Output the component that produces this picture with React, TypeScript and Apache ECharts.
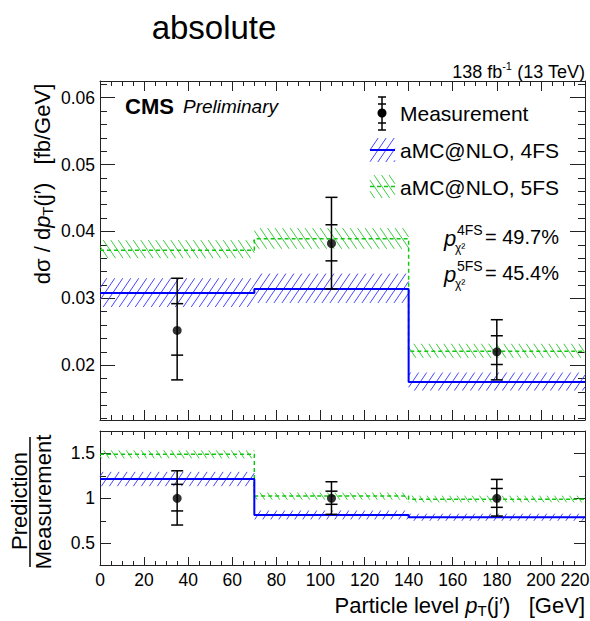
import React, { useEffect, useRef } from 'react';
import * as echarts from 'echarts';

// ---------- data ----------
const binEdges = [0, 70, 140, 220];

const pred4FS = [0.0308, 0.0314, 0.0175];
const pred4FSLo = [0.0287, 0.0293, 0.0162];
const pred4FSHi = [0.033, 0.0337, 0.0189];
const pred5FS = [0.0372, 0.0389, 0.0221];
const pred5FSLo = [0.036, 0.0374, 0.0211];
const pred5FSHi = [0.0387, 0.0405, 0.0232];

const measX = [35, 105, 180];
const measY = [0.0252, 0.0382, 0.022];
const measInnerLo = [0.0215, 0.0356, 0.0201];
const measInnerHi = [0.0292, 0.041, 0.0244];
const measOuterLo = [0.0178, 0.0314, 0.0178];
const measOuterHi = [0.033, 0.0451, 0.0268];

const ratio4FS = [1.215, 0.815, 0.79];
const ratio4FSLo = [1.135, 0.765, 0.75];
const ratio4FSHi = [1.295, 0.865, 0.83];
const ratio5FS = [1.49, 1.025, 0.99];
const ratio5FSLo = [1.445, 0.985, 0.955];
const ratio5FSHi = [1.535, 1.065, 1.03];
const ratioMeas = [1, 1, 1];
const ratioInnerLo = [0.86, 0.934, 0.9];
const ratioInnerHi = [1.156, 1.08, 1.11];
const ratioOuterLo = [0.703, 0.822, 0.803];
const ratioOuterHi = [1.307, 1.185, 1.211];

const mainYTicks = [0.02, 0.03, 0.04, 0.05, 0.06];
const ratioYTicks = [0.5, 1, 1.5];
const ratioYMinor = [0.75, 1.25];

const pValue4FS = '49.7%';
const pValue5FS = '45.4%';

// ---------- helpers ----------
const FONT = '"Liberation Sans", Arial, Helvetica, sans-serif';
const AXC = '#222';
const BLUE = '#0000ff';
const BLUE_H = '#4545ff';
const GREEN = '#11c811';
const GREEN_H = '#40cc40';

function hatchSegments(x0: number, y0: number, x1: number, y1: number, spacing: number, s: number) {
  const k = 0.68;
  const ax = Math.min(x0, x1), bx = Math.max(x0, x1);
  const ay = Math.min(y0, y1), by = Math.max(y0, y1);
  const cs = [ax + s * k * ay, ax + s * k * by, bx + s * k * ay, bx + s * k * by];
  const cmin = Math.min(...cs), cmax = Math.max(...cs);
  const out: number[][] = [];
  for (let c = Math.floor(cmin / spacing) * spacing; c <= cmax; c += spacing) {
    let ya = (c - bx) / (s * k), yb = (c - ax) / (s * k);
    if (ya > yb) { const t = ya; ya = yb; yb = t; }
    ya = Math.max(ya, ay); yb = Math.min(yb, by);
    if (yb - ya > 0.6) {
      out.push([c - s * k * ya, ya, c - s * k * yb, yb]);
    }
  }
  return out;
}

function bandData(lo: number[], hi: number[]) {
  return lo.map((l, i) => [binEdges[i], binEdges[i + 1], l, hi[i]]);
}
function stepData(vals: number[]) {
  const pts = vals.map((v, i) => [binEdges[i], v]);
  pts.push([binEdges[binEdges.length - 1], vals[vals.length - 1]]);
  return pts;
}
function errData(y: number[], oLo: number[], oHi: number[], iLo: number[], iHi: number[]) {
  return measX.map((x, i) => [x, oLo[i], oHi[i], iLo[i], iHi[i], y[i]]);
}

const bandRender = (color: string, dir: number, spacing: number) => (params: any, api: any) => {
  const a = api.coord([api.value(0), api.value(3)]);
  const b = api.coord([api.value(1), api.value(2)]);
  const segs = hatchSegments(a[0], a[1], b[0], b[1], spacing, dir);
  return {
    type: 'group',
    children: segs.map((sg) => ({
      type: 'line',
      shape: { x1: sg[0], y1: sg[1], x2: sg[2], y2: sg[3] },
      style: { stroke: color, lineWidth: 1 },
    })),
  };
};

const errRender = (params: any, api: any) => {
  const x = api.value(0);
  const oLo = api.coord([x, api.value(1)]);
  const oHi = api.coord([x, api.value(2)]);
  const iLo = api.coord([x, api.value(3)]);
  const iHi = api.coord([x, api.value(4)]);
  const cw = 6;
  const st = { stroke: '#000', lineWidth: 1.5 };
  const ln = (x1: number, y1: number, x2: number, y2: number) => ({ type: 'line', shape: { x1, y1, x2, y2 }, style: st });
  return {
    type: 'group',
    children: [
      ln(oLo[0], oLo[1], oHi[0], oHi[1]),
      ln(oLo[0] - cw, oLo[1], oLo[0] + cw, oLo[1]),
      ln(oHi[0] - cw, oHi[1], oHi[0] + cw, oHi[1]),
      ln(iLo[0] - cw, iLo[1], iLo[0] + cw, iLo[1]),
      ln(iHi[0] - cw, iHi[1], iHi[0] + cw, iHi[1]),
    ],
  };
};

// ---------- layout ----------
const GL = 100, GW = 485;
const MAIN_TOP = 81, MAIN_H = 339;
const RAT_TOP = 431, RAT_H = 134;
const X_MAX = 220;

function xAxisMajor(gridIndex: number, position: string, showLabel: boolean, len: number, minorLen: number) {
  return {
    type: 'value', gridIndex, position, min: 0, max: X_MAX, interval: 20,
    axisLine: { show: true, onZero: false, lineStyle: { color: AXC, width: 1 } },
    axisTick: { show: true, inside: true, length: len, lineStyle: { color: AXC, width: 1 } },
    minorTick: { show: true, splitNumber: 4, length: minorLen, lineStyle: { color: AXC, width: 1 } },
    axisLabel: {
      show: showLabel, color: '#000', fontFamily: FONT, fontSize: 17.5, margin: 6,
      formatter: (v: number) => (v === X_MAX ? '{r|' + v + '}' : String(v)),
      rich: { r: { color: '#000', fontFamily: FONT, fontSize: 17.5, padding: [0, 20, 0, 0] } },
    },
    splitLine: { show: false }, minorSplitLine: { show: false },
  };
}
function xAxisHidden(gridIndex: number) {
  return { type: 'value', gridIndex, min: 0, max: X_MAX, show: false };
}
function yAxis(gridIndex: number, position: string, min: number, max: number, ticks: number[], len: number,
  labels: boolean, line: boolean, formatter?: (v: number) => string) {
  return {
    type: 'value', gridIndex, position, min, max,
    axisLine: { show: line, onZero: false, lineStyle: { color: AXC, width: 1 } },
    axisTick: { show: true, inside: true, length: len, customValues: ticks, lineStyle: { color: AXC, width: 1 } },
    axisLabel: { show: labels, customValues: ticks, formatter, color: '#000', fontFamily: FONT, fontSize: 17.5, margin: 5 },
    splitLine: { show: false },
  };
}

const mainYMinor: number[] = [];
for (let i = 6; i <= 31; i++) mainYMinor.push(Math.round(i * 2) / 1000);

const MAIN_MIN = 0.0118, MAIN_MAX = 0.0625;
const RAT_MIN = 0.258, RAT_MAX = 1.75;

function txt(x: number, y: number, text: string, style: any, extra: any = {}) {
  return {
    type: 'text', x, y, ...extra,
    style: { text, fill: '#000', fontFamily: FONT, fontSize: 20, align: 'left', verticalAlign: 'middle', ...style },
  };
}

function hatchGraphic(x0: number, y0: number, x1: number, y1: number, spacing: number, dir: number, color: string) {
  return hatchSegments(x0, y0, x1, y1, spacing, dir).map((sg) => ({
    type: 'line', shape: { x1: sg[0], y1: sg[1], x2: sg[2], y2: sg[3] }, style: { stroke: color, lineWidth: 1 },
  }));
}

function buildOption() {
  const subRich = {
    a: { fontSize: 22, fontFamily: FONT, lineHeight: 26 },
    i: { fontSize: 22, fontFamily: FONT, fontStyle: 'italic', lineHeight: 26 },
    s: { fontSize: 15, fontFamily: FONT, lineHeight: 12, verticalAlign: 'bottom' },
  };

  const graphic: any[] = [
    txt(214, 27, 'absolute', { fontSize: 33, align: 'center' }),
    txt(585, 72, '{a|138 fb}{u|-1}{a| (13 TeV)}', {
      align: 'right',
      rich: {
        a: { fontSize: 18, fontFamily: FONT, lineHeight: 24 },
        u: { fontSize: 11, fontFamily: FONT, lineHeight: 12, verticalAlign: 'top' },
      },
    }),
    txt(125, 106, 'CMS', { fontSize: 22, fontWeight: 'bold' }),
    txt(183, 106, 'Preliminary', { fontSize: 19, fontStyle: 'italic' }),
    // y-axis title (main)
    txt(42, 184, '{a|dσ / d}{i|p}{s|T}{a|(j′)   [fb/GeV]}', { align: 'center', rich: subRich }, { rotation: Math.PI / 2 }),
    // ratio y title
    txt(19, 501, 'Prediction', { fontSize: 22, align: 'center' }, { rotation: Math.PI / 2 }),
    txt(43, 502, 'Measurement', { fontSize: 22, align: 'center' }, { rotation: Math.PI / 2 }),
    { type: 'line', shape: { x1: 30, y1: 437, x2: 30, y2: 567 }, style: { stroke: '#000', lineWidth: 1.5 } },
    // x-axis title
    txt(585, 605, '{a|Particle level }{i|p}{s|T}{a|(j′)   [GeV]}', { align: 'right', rich: subRich }),
    // legend: measurement
    { type: 'line', shape: { x1: 382, y1: 97, x2: 382, y2: 130 }, style: { stroke: '#000', lineWidth: 1.5 } },
    { type: 'line', shape: { x1: 378, y1: 97, x2: 386, y2: 97 }, style: { stroke: '#000', lineWidth: 1.5 } },
    { type: 'line', shape: { x1: 378, y1: 130, x2: 386, y2: 130 }, style: { stroke: '#000', lineWidth: 1.5 } },
    { type: 'line', shape: { x1: 378, y1: 104, x2: 386, y2: 104 }, style: { stroke: '#000', lineWidth: 1.5 } },
    { type: 'line', shape: { x1: 378, y1: 123, x2: 386, y2: 123 }, style: { stroke: '#000', lineWidth: 1.5 } },
    { type: 'circle', shape: { cx: 382, cy: 113, r: 4.5 }, style: { fill: '#000' } },
    txt(400, 113, 'Measurement', { fontSize: 21 }),
    // legend: 4FS
    ...hatchGraphic(370, 138, 395, 162, 8, 1, BLUE_H),
    { type: 'line', shape: { x1: 370, y1: 150, x2: 395, y2: 150 }, style: { stroke: BLUE, lineWidth: 2 } },
    txt(400, 150, 'aMC@NLO, 4FS', { fontSize: 21 }),
    // legend: 5FS
    ...hatchGraphic(370, 175, 395, 198, 7.5, -1, GREEN_H),
    { type: 'line', shape: { x1: 370, y1: 186.5, x2: 395, y2: 186.5 }, style: { stroke: GREEN, lineWidth: 1.5, lineDash: [4, 3] } },
    txt(400, 187, 'aMC@NLO, 5FS', { fontSize: 21 }),
    // p-values
    txt(444, 238, 'p', { fontSize: 22, fontStyle: 'italic' }),
    txt(457, 230, '4FS', { fontSize: 14 }),
    txt(455, 248, 'χ²', { fontSize: 12 }),
    txt(485, 237, '= ' + pValue4FS, { fontSize: 20 }),
    txt(444, 274, 'p', { fontSize: 22, fontStyle: 'italic' }),
    txt(457, 266, '5FS', { fontSize: 14 }),
    txt(455, 284, 'χ²', { fontSize: 12 }),
    txt(485, 273, '= ' + pValue5FS, { fontSize: 20 }),
  ];

  const fmtMain = (v: number) => v.toFixed(2);
  const fmtRat = (v: number) => String(v);
  const gridBase = { left: GL, width: GW, outerBoundsMode: 'none', containLabel: false };

  return {
    animation: false,
    backgroundColor: '#fff',
    grid: [
      { ...gridBase, top: MAIN_TOP, height: MAIN_H },
      { ...gridBase, top: MAIN_TOP, height: MAIN_H },
      { ...gridBase, top: RAT_TOP, height: RAT_H },
      { ...gridBase, top: RAT_TOP, height: RAT_H },
    ],
    xAxis: [
      xAxisMajor(0, 'bottom', false, 10, 5),
      xAxisMajor(0, 'top', false, 10, 5),
      xAxisHidden(1),
      xAxisMajor(2, 'bottom', true, 8, 4),
      xAxisMajor(2, 'top', false, 8, 4),
      xAxisHidden(3),
    ],
    yAxis: [
      yAxis(0, 'left', MAIN_MIN, MAIN_MAX, mainYTicks, 15, true, true, fmtMain),
      yAxis(0, 'right', MAIN_MIN, MAIN_MAX, mainYTicks, 15, false, true),
      yAxis(1, 'left', MAIN_MIN, MAIN_MAX, mainYMinor, 7, false, false),
      yAxis(1, 'right', MAIN_MIN, MAIN_MAX, mainYMinor, 7, false, false),
      yAxis(2, 'left', RAT_MIN, RAT_MAX, ratioYTicks, 11, true, true, fmtRat),
      yAxis(2, 'right', RAT_MIN, RAT_MAX, ratioYTicks, 11, false, true),
      yAxis(3, 'left', RAT_MIN, RAT_MAX, ratioYMinor, 6, false, false),
      yAxis(3, 'right', RAT_MIN, RAT_MAX, ratioYMinor, 6, false, false),
    ],
    series: [
      // main panel
      { type: 'custom', xAxisIndex: 0, yAxisIndex: 0, data: bandData(pred4FSLo, pred4FSHi), renderItem: bandRender(BLUE_H, 1, 8), silent: true, z: 1 },
      { type: 'custom', xAxisIndex: 0, yAxisIndex: 0, data: bandData(pred5FSLo, pred5FSHi), renderItem: bandRender(GREEN_H, -1, 7.5), silent: true, z: 1 },
      { type: 'line', xAxisIndex: 0, yAxisIndex: 0, data: stepData(pred5FS), step: 'end', symbol: 'none', lineStyle: { color: GREEN, width: 1.5, type: [4, 3] }, silent: true, z: 2 },
      { type: 'line', xAxisIndex: 0, yAxisIndex: 0, data: stepData(pred4FS), step: 'end', symbol: 'none', lineStyle: { color: BLUE, width: 2 }, silent: true, z: 3 },
      { type: 'custom', xAxisIndex: 0, yAxisIndex: 0, data: errData(measY, measOuterLo, measOuterHi, measInnerLo, measInnerHi), renderItem: errRender, silent: true, z: 4 },
      { type: 'scatter', xAxisIndex: 0, yAxisIndex: 0, data: measX.map((x, i) => [x, measY[i]]), symbol: 'circle', symbolSize: 9, itemStyle: { color: '#000' }, silent: true, z: 5 },
      // ratio panel
      { type: 'custom', xAxisIndex: 3, yAxisIndex: 4, data: bandData(ratio4FSLo, ratio4FSHi), renderItem: bandRender(BLUE_H, 1, 8), silent: true, z: 1 },
      { type: 'custom', xAxisIndex: 3, yAxisIndex: 4, data: bandData(ratio5FSLo, ratio5FSHi), renderItem: bandRender(GREEN_H, -1, 7.5), silent: true, z: 1 },
      { type: 'line', xAxisIndex: 3, yAxisIndex: 4, data: stepData(ratio5FS), step: 'end', symbol: 'none', lineStyle: { color: GREEN, width: 1.5, type: [4, 3] }, silent: true, z: 2 },
      { type: 'line', xAxisIndex: 3, yAxisIndex: 4, data: stepData(ratio4FS), step: 'end', symbol: 'none', lineStyle: { color: BLUE, width: 2 }, silent: true, z: 3 },
      { type: 'custom', xAxisIndex: 3, yAxisIndex: 4, data: errData(ratioMeas, ratioOuterLo, ratioOuterHi, ratioInnerLo, ratioInnerHi), renderItem: errRender, silent: true, z: 4 },
      { type: 'scatter', xAxisIndex: 3, yAxisIndex: 4, data: measX.map((x, i) => [x, ratioMeas[i]]), symbol: 'circle', symbolSize: 9, itemStyle: { color: '#000' }, silent: true, z: 5 },
    ],
    graphic,
  };
}

export default function App() {
  const ref = useRef<HTMLDivElement>(null);
  useEffect(() => {
    if (!ref.current) return;
    const chart = echarts.init(ref.current, undefined, { renderer: 'svg' });
    chart.setOption(buildOption() as any);
    return () => chart.dispose();
  }, []);
  return <div ref={ref} style={{ position: 'absolute', left: 0, top: 0, width: 590, height: 621, background: '#fff' }} />;
}
